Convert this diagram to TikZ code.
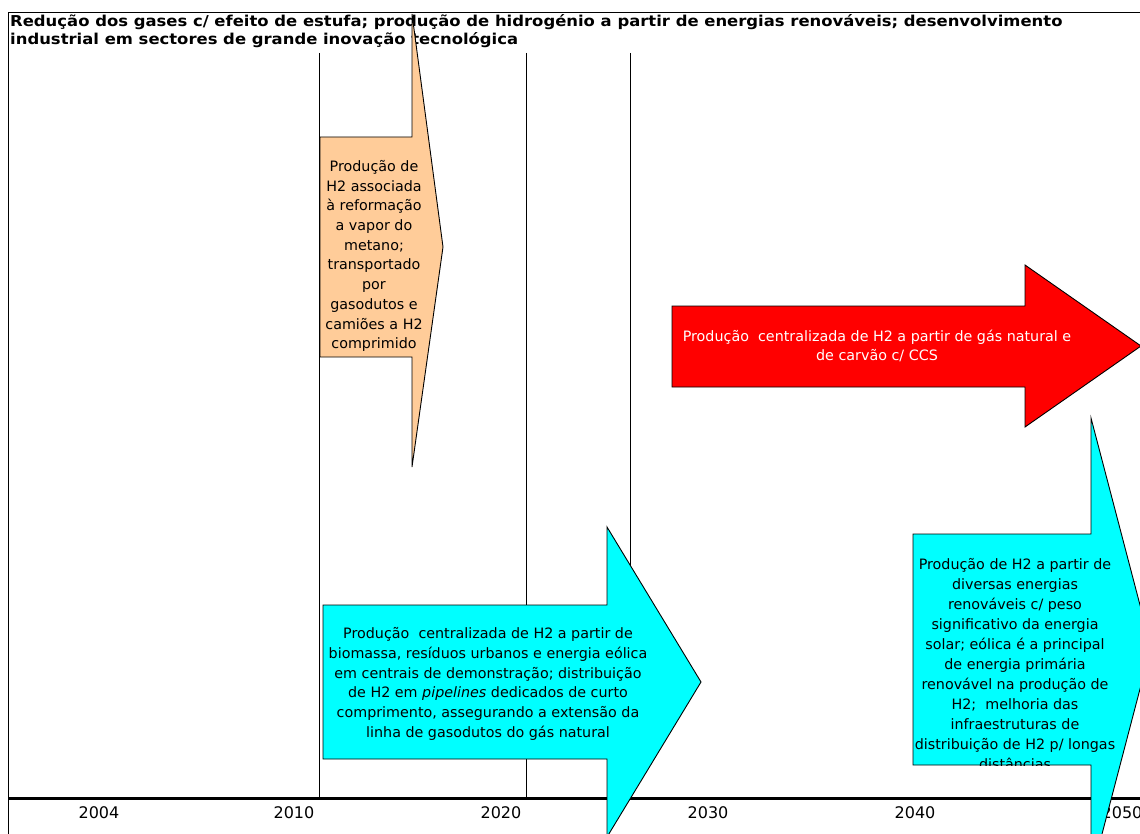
\documentclass[tikz,border=0pt]{standalone}
\usepackage{fontspec}
\usepackage{graphicx}
\setmainfont{DejaVu Sans}
\definecolor{peach}{HTML}{FFCC99}
\definecolor{aqua}{HTML}{00FFFF}
\newcommand{\widetitle}[1]{\scalebox{1.095}[1]{#1}}
\begin{document}
\begin{tikzpicture}[x=1pt,y=-1pt,
  gridline/.style={draw=black,line width=0.9pt},
  arrowshape/.style={draw=black,line width=0.9pt,line join=miter},
  bodytext/.style={align=center,inner sep=0pt,font=\fontsize{14.3}{19.7}\selectfont},
  yearlabel/.style={inner sep=0pt,font=\fontsize{16}{18}\selectfont},
  titletext/.style={inner sep=0pt,anchor=west,font=\bfseries\fontsize{15}{18}\selectfont}]
\useasboundingbox (0,0) rectangle (1140,834);
\clip (0,0) rectangle (1140,834);

% frame
\draw[gridline] (8,834) -- (8,12) -- (1140,12);

% title, two lines
\node[titletext] (title1) at (10,22) {\widetitle{Redução dos gases c/ efeito de estufa; produção de hidrogénio a partir de energias renováveis; desenvolvimento}};
\node[titletext] (title2) at (10,40) {\widetitle{industrial em sectores de grande inovação tecnológica}};

% period separators
\draw[gridline] (319,53) -- (319,798);
\draw[gridline] (526,53) -- (526,798);
\draw[gridline] (630,53) -- (630,798);

% time axis
\draw[line width=3pt] (8,798) -- (1140,798);
\node[yearlabel] (y2004) at (99,813) {2004};
\node[yearlabel] (y2010) at (294,813) {2010};
\node[yearlabel] (y2020) at (501,813) {2020};
\node[yearlabel] (y2030) at (708,813) {2030};
\node[yearlabel] (y2040) at (915,813) {2040};
\node[yearlabel] (y2050) at (1122,813) {2050};

% steam reforming phase
\draw[arrowshape,fill=peach] (320,137) -- (412,137) -- (412,14) -- (443,247) -- (412,467) -- (412,357) -- (320,357) -- cycle;
\node[bodytext] (smr) at (374,256) {Produção de\\H2 associada\\à reformação\\a vapor do\\metano;\\transportado\\por\\gasodutos e\\camiões a H2\\comprimido};

% centralised fossil production with CCS
\draw[arrowshape,fill=red] (672,306) -- (1025,306) -- (1025,265) -- (1141,346) -- (1025,427) -- (1025,387) -- (672,387) -- cycle;
\node[bodytext,text=white] (ccs) at (877,346) {Produção\ \ centralizada de H2 a partir de gás natural e\\de carvão c/ CCS};

% renewable demonstration phase
\draw[arrowshape,fill=aqua] (323,605) -- (607,605) -- (607,527) -- (701,682) -- (607,837) -- (607,759) -- (323,759) -- cycle;
\node[bodytext] (demo) at (488,684) {Produção\ \ centralizada de H2 a partir de\\biomassa, resíduos urbanos e energia eólica\\em centrais de demonstração; distribuição\\de H2 em \textit{pipelines} dedicados de curto\\comprimento, assegurando a extensão da\\linha de gasodutos do gás natural};

% renewable mix phase, text cut off by the arrow outline
\begin{scope}
  \clip (913,534) -- (1091,534) -- (1091,418) -- (1151,647) -- (1091,876) -- (1091,765) -- (913,765) -- cycle;
  \fill[aqua] (913,534) -- (1091,534) -- (1091,418) -- (1151,647) -- (1091,876) -- (1091,765) -- (913,765) -- cycle;
  \node[bodytext,font=\fontsize{14.3}{20}\selectfont] (renew) at (1015,664) {Produção de H2 a partir de\\diversas energias\\renováveis c/ peso\\significativo da energia\\solar; eólica é a principal\\de energia primária\\renovável na produção de\\H2;\ \ melhoria das\\infraestruturas de\\distribuição de H2 p/ longas\\distâncias};
\end{scope}
\draw[arrowshape] (913,534) -- (1091,534) -- (1091,418) -- (1151,647) -- (1091,876) -- (1091,765) -- (913,765) -- cycle;
\end{tikzpicture}
\end{document}
